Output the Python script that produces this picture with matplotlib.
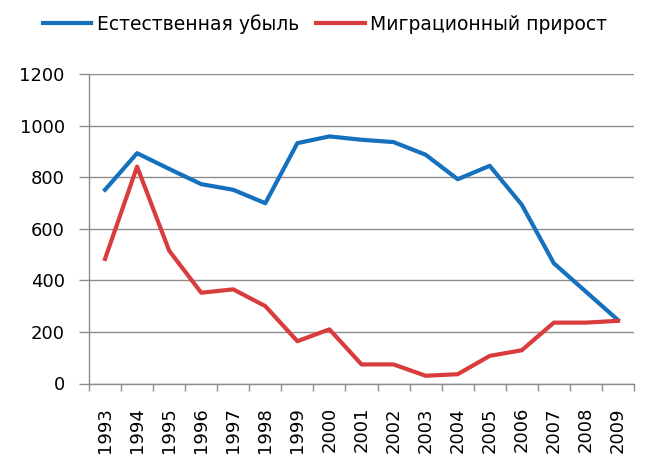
import matplotlib.pyplot as plt
from matplotlib.ticker import FixedLocator

years = ['1993', '1994', '1995', '1996', '1997', '1998', '1999', '2000', '2001',
         '2002', '2003', '2004', '2005', '2006', '2007', '2008', '2009']
natural_loss = [751, 893, 832, 773, 751, 699, 932, 958, 945,
                936, 887, 792, 844, 693, 466, 356, 246]
migration_gain = [483, 841, 515, 352, 365, 300, 164, 210, 74,
                  74, 30, 36, 107, 129, 236, 236, 243]

plt.rcParams['font.family'] = ['DejaVu Sans']

fig = plt.figure(figsize=(6.5, 4.71), dpi=100)
ax = fig.add_axes([89 / 650, 1 - 383.5 / 471, 545 / 650, 309.5 / 471])

x = list(range(len(years)))
ax.plot(x, natural_loss, color='#1570bd', lw=3.0, label='Естественная убыль',
        solid_joinstyle='round', zorder=3)
ax.plot(x, migration_gain, color='#d93c3c', lw=3.0, label='Миграционный прирост',
        solid_joinstyle='round', zorder=3)

ax.set_xlim(-0.5, len(years) - 0.5)
ax.set_ylim(0, 1200)
ax.set_yticks(range(0, 1201, 200))
ax.set_xticks(x)
ax.set_xticklabels(years, rotation=90, fontsize=13)
ax.xaxis.set_minor_locator(FixedLocator([i - 0.5 for i in range(len(years) + 1)]))
ax.tick_params(axis='x', which='major', length=0, pad=17)
ax.tick_params(axis='x', which='minor', length=5, color='#8c8c8c', width=1)
ax.tick_params(axis='y', length=7, color='#8c8c8c', width=1, labelsize=13, pad=10.5)

ax.grid(axis='y', color='#8c8c8c', lw=1)
ax.set_axisbelow(True)
for s in ['top', 'right']:
    ax.spines[s].set_visible(False)
for s in ['left', 'bottom']:
    ax.spines[s].set_color('#8c8c8c')
    ax.spines[s].set_linewidth(1)

fig.legend(loc='center', bbox_to_anchor=(0.5, 1 - 24 / 471), ncol=2, frameon=False,
           fontsize=13.5, handlelength=2.6, handletextpad=0.3, columnspacing=0.9)

fig.savefig('out.png', dpi=100)
